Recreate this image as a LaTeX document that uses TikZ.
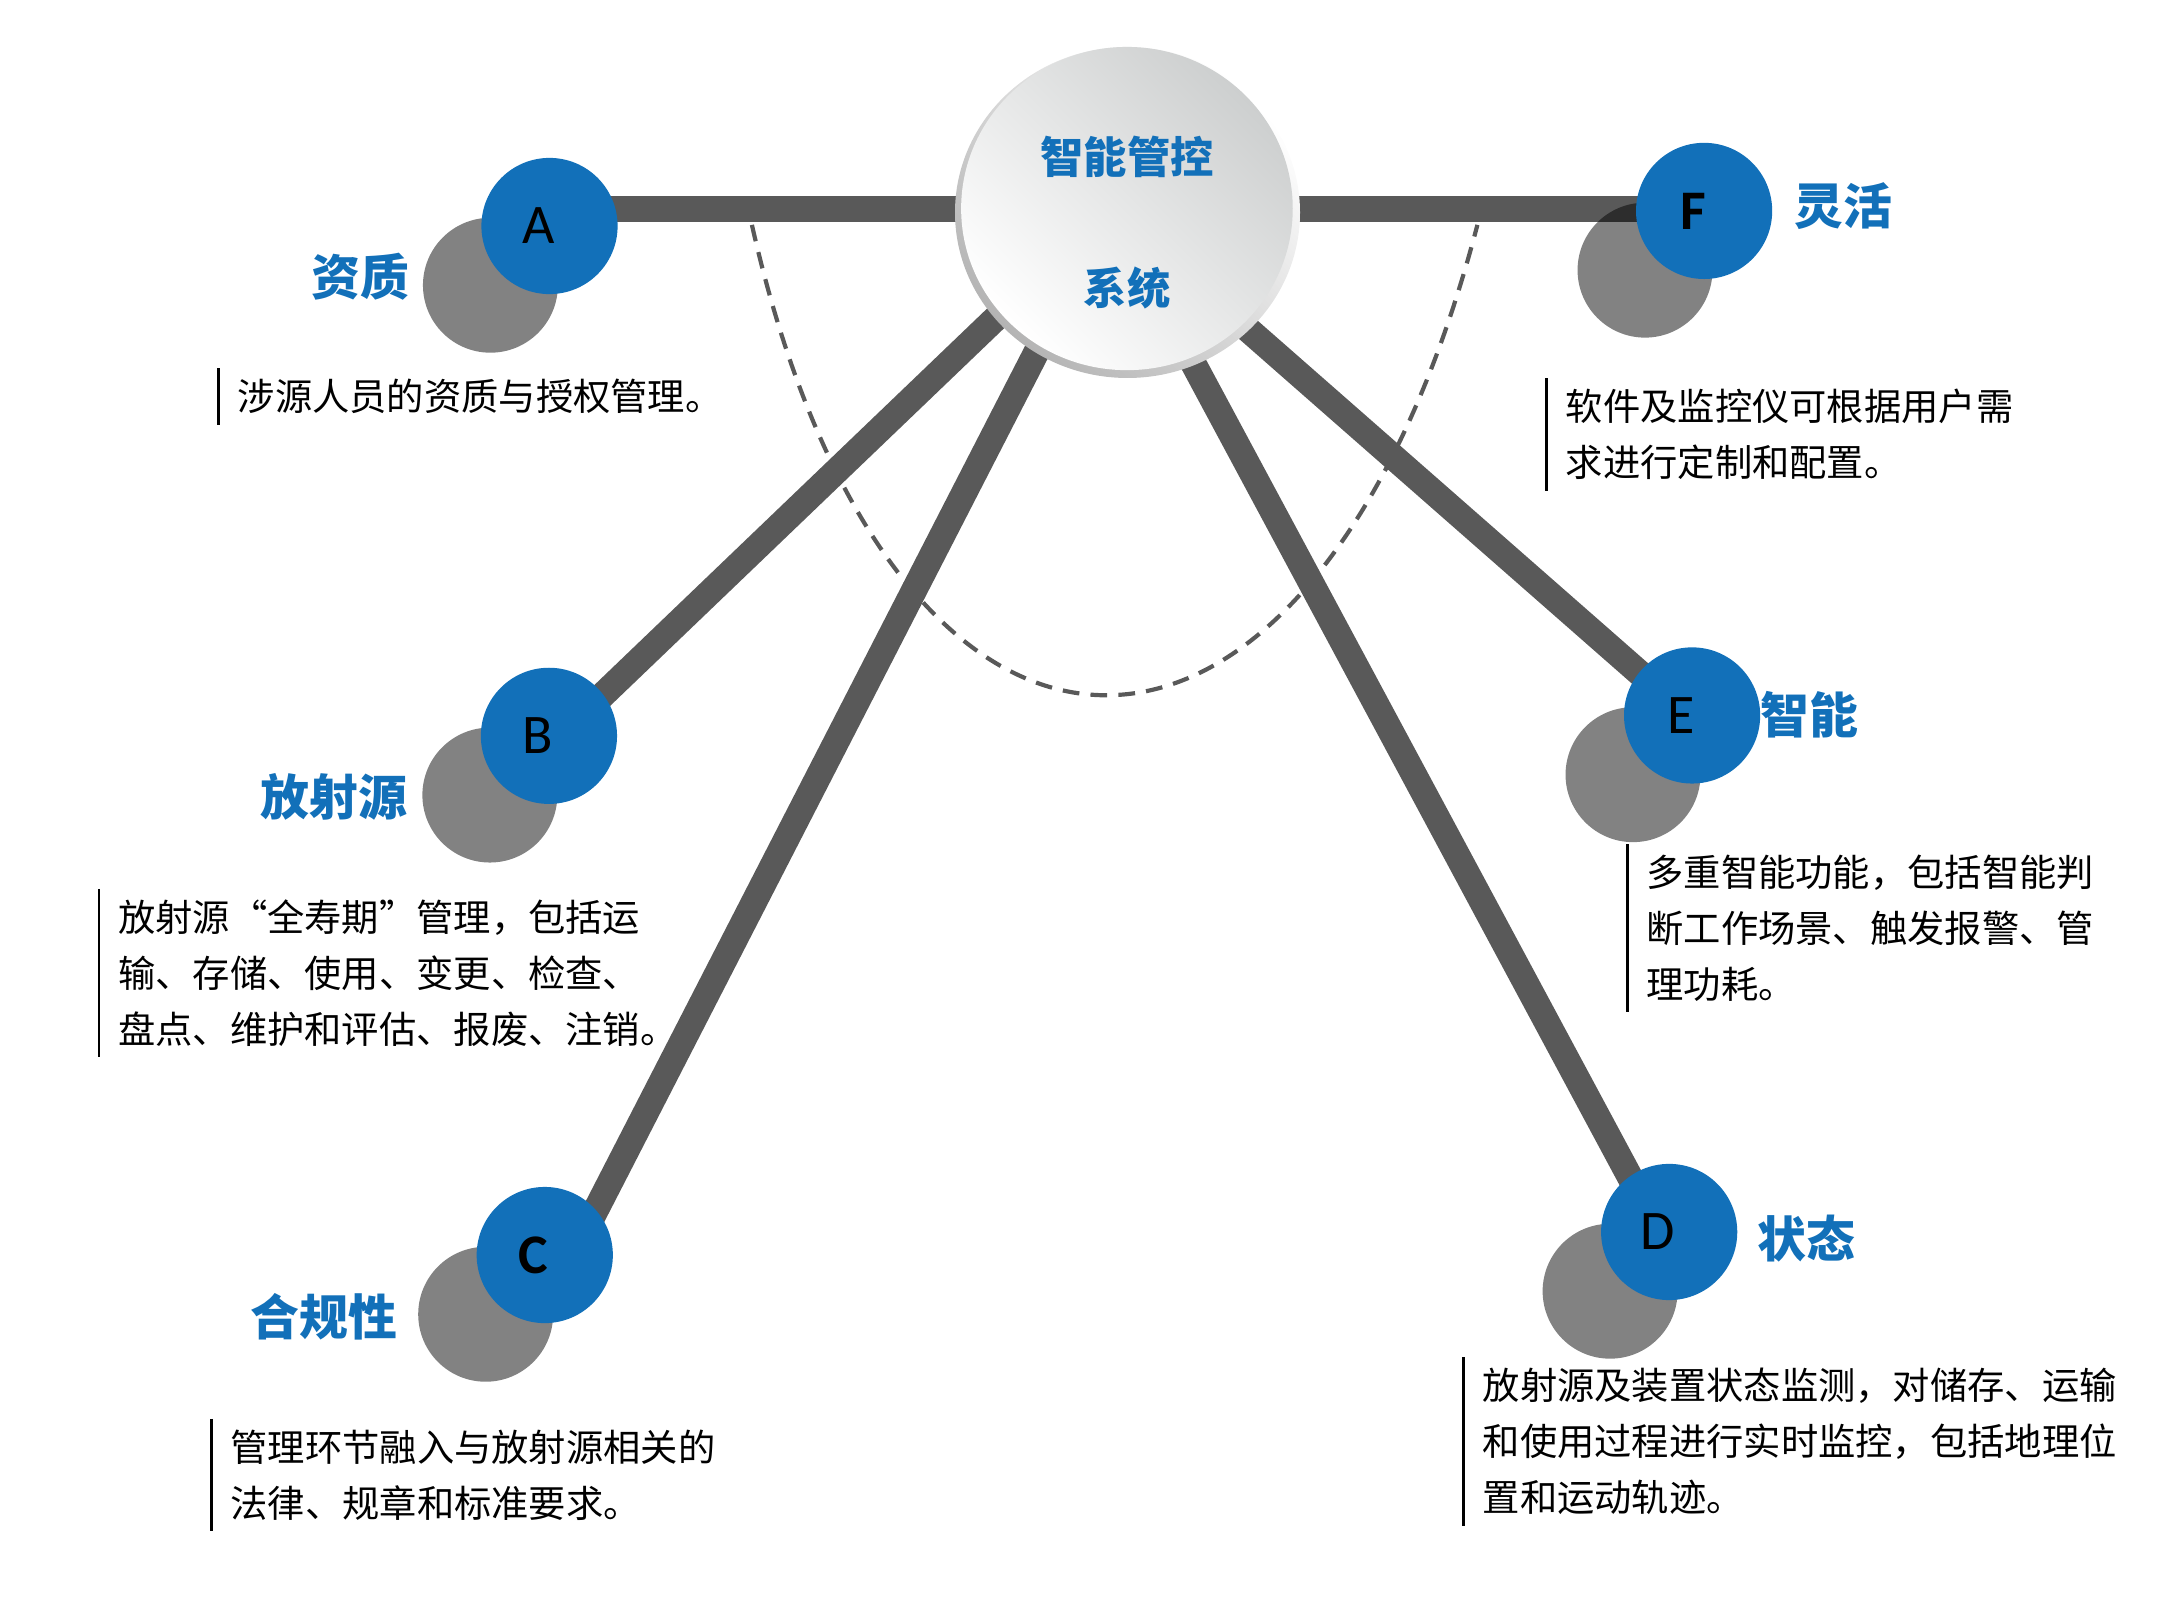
\documentclass[tikz,border=0pt]{standalone}
\usepackage{fontspec}
\setmainfont{Carlito}
\newfontfamily\cjkfont{Noto Sans CJK SC}
\usetikzlibrary{shapes.geometric,backgrounds}
\definecolor{nodeblue}{RGB}{18,112,185}
\definecolor{dotgray}{RGB}{130,130,130}
\definecolor{spokegray}{RGB}{89,89,89}
\definecolor{hubgray}{RGB}{205,207,207}
\definecolor{rimgray}{RGB}{180,180,180}

\begin{document}
\begin{tikzpicture}
  [x=1pt,y=-1pt,
   every node/.style={inner sep=0pt},
   spoke/.style={line width=18.6pt,spokegray},
   dashedarc/.style={line width=3pt,spokegray,dash pattern=on 12pt off 8pt},
   hub/.style={ellipse,minimum width=237.4pt,minimum height=231.4pt,left color=white,right color=hubgray,shading angle=135},
   hubtext/.style={text=nodeblue,font=\cjkfont\bfseries\fontsize{31}{37}\selectfont},
   shadowdot/.style={circle,fill=dotgray,minimum size=96.6pt},
   bluedot/.style={circle,fill=nodeblue,minimum size=97.5pt},
   letter/.style={font=\fontsize{40}{48}\selectfont},
   tag/.style={text=nodeblue,font=\cjkfont\bfseries\fontsize{35}{42}\selectfont},
   desc/.style={align=left,anchor=west,inner xsep=13.5pt,font=\cjkfont\fontsize{26.7}{40}\selectfont},
   bar/.style={line width=2pt}]
  \useasboundingbox (0,0) rectangle (1560,1151.2);

  \shade[left color=rimgray,right color=white,shading angle=135] (807.2,152.1) ellipse [x radius=123.5,y radius=118.5];
  \node[hub] (hub) at (806.8,149.3) {};
  \node[hubtext] (hubT) at (807,112.5) {智能管控};
  \node[hubtext] (hubB) at (807,206) {系统};
  \coordinate (root) at ([xshift=-12]hub.center);

  \foreach \n/\x/\y/\l in {A/393.4/161.8/A, B/393/526.8/B, C/390/898.5/{\bfseries C},
                           D/1195/882/D, E/1211.4/512.2/E, F/1220/151/{\bfseries F}}
  {
    \begin{scope}[blend mode=multiply]
      \node[shadowdot] (g\n) at (\x-42.3,\y+42.4) {};
    \end{scope}
    \node[bluedot] (n\n) at (\x,\y) {};
    \node[letter] (t\n) at ([xshift=-8]n\n.center) {\l};
  }

  \node[tag,anchor=east] (lA) at (293.5,198) {资质};
  \node[tag,anchor=east] (lB) at (292,570.5) {放射源};
  \node[tag,anchor=east] (lC) at (284.5,942.6) {合规性};
  \node[tag,anchor=west] (lF) at (1284.5,147.5) {灵活};
  \node[tag,anchor=west] (lE) at (1260,512) {智能};
  \node[tag,anchor=west] (lD) at (1258,886.5) {状态};

  \node[desc,minimum height=40pt] (dA) at (156.5,284) {涉源人员的资质与授权管理。};
  \node[desc,minimum height=80pt] (dF) at (1107.3,311) {软件及监控仪可根据用户需\\求进行定制和配置。};
  \node[desc,minimum height=120pt] (dB) at (70.9,696.5) {放射源“全寿期”管理，包括运\\输、存储、使用、变更、检查、\\盘点、维护和评估、报废、注销。};
  \node[desc,minimum height=120pt] (dE) at (1165,664.5) {多重智能功能，包括智能判\\断工作场景、触发报警、管\\理功耗。};
  \node[desc,minimum height=80pt] (dC) at (151.4,1056) {管理环节融入与放射源相关的\\法律、规章和标准要求。};
  \node[desc,minimum height=120pt] (dD) at (1047.8,1032) {放射源及装置状态监测，对储存、运输\\和使用过程进行实时监控，包括地理位\\置和运动轨迹。};
  \foreach \d in {A,B,C,D,E,F}
    \draw[bar] (d\d.north west) -- (d\d.south west);

  \begin{scope}[on background layer]
    \draw[dashedarc] (538.3,161) .. controls (640,610) and (940,610) .. (1057.7,161);
    \foreach \n in {A,F}
      \draw[spoke] (root) -- (root -| n\n.center);
    \foreach \n/\dx in {B/8,C/20,D/-7,E/-3}
      \draw[spoke] (root) -- ([xshift=\dx]n\n.center);
  \end{scope}

\end{tikzpicture}
\end{document}
